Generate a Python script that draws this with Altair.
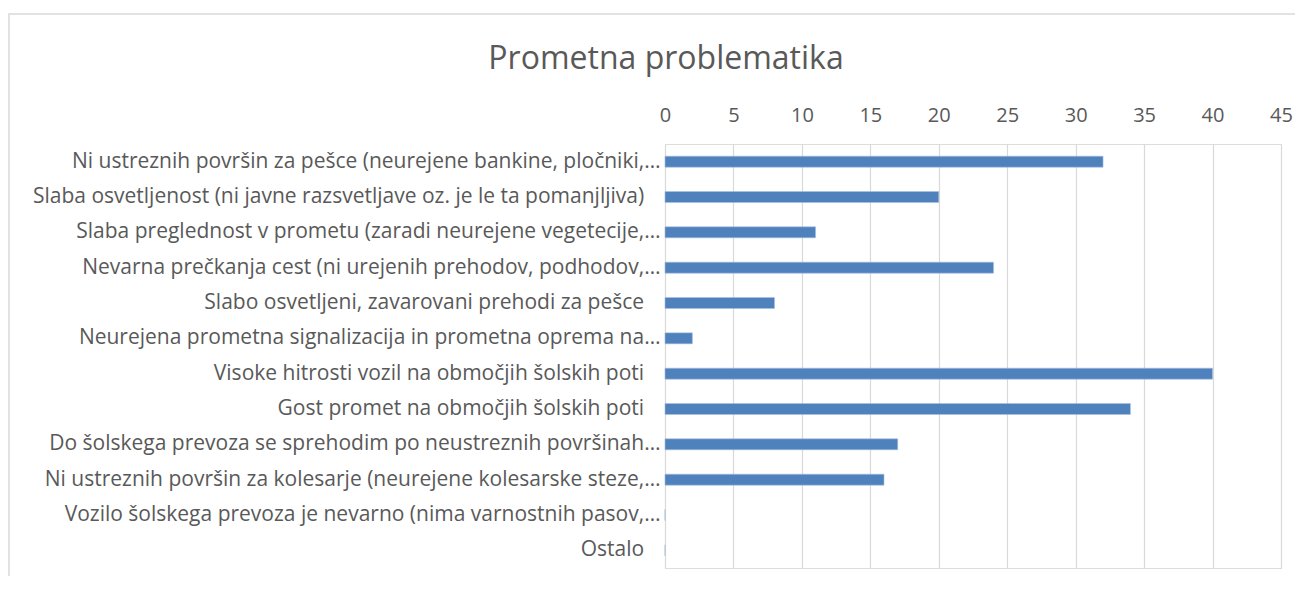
import altair as alt
import pandas as pd

title_text = ["Prometna problematika"]
PAD = "\u00a0\u00a0\u00a0\u200b"
categories = [
    "Ni ustreznih površin za pešce (neurejene bankine, pločniki,…",
    "Slaba osvetljenost (ni javne razsvetljave oz. je le ta pomanjljiva)" + PAD,
    "Slaba preglednost v prometu (zaradi neurejene vegetecije,…",
    "Nevarna prečkanja cest (ni urejenih prehodov, podhodov,…",
    "Slabo osvetljeni, zavarovani prehodi za pešce" + PAD,
    "Neurejena prometna signalizacija in prometna oprema na…",
    "Visoke hitrosti vozil na območjih šolskih poti" + PAD,
    "Gost promet na območjih šolskih poti" + PAD,
    "Do šolskega prevoza se sprehodim po neustreznih površinah…",
    "Ni ustreznih površin za kolesarje (neurejene kolesarske steze,…",
    "Vozilo šolskega prevoza je nevarno (nima varnostnih pasov,…",
    "Ostalo" + PAD,
]
values = [32, 20, 11, 24, 8, 2, 40, 34, 17, 16, 0, 0]
x_ticks = [0, 5, 10, 15, 20, 25, 30, 35, 40, 45]

df = pd.DataFrame({"kategorija": categories, "vrednost": values})
df_title = pd.DataFrame({"naslov": title_text})

FONT = "Open Sans"
GREY = "#595959"

frame = alt.Chart(df_title).mark_rect(
    fill=None, stroke="#d9d9d9", strokeWidth=1.5, clip=False
).encode(
    x=alt.value(-656), x2=alt.value(700),
    y=alt.value(-130), y2=alt.value(600),
)

title = alt.Chart(df_title).mark_text(
    font=FONT, fontSize=32, color=GREY, align="center", baseline="alphabetic"
).encode(
    text="naslov:N",
    x=alt.value(1),
    y=alt.value(-75),
)

bars = alt.Chart(df).mark_bar(
    color="#4f81bd", size=11, stroke="#a7c0e0", strokeWidth=0.6
).encode(
    x=alt.X(
        "vrednost:Q",
        scale=alt.Scale(domain=[0, 45], nice=False),
        axis=alt.Axis(
            orient="top", values=x_ticks, title=None, domain=False, ticks=False,
            labelPadding=19, labelFontSize=20, labelFont=FONT, labelColor=GREY,
            labelFlush=False,
            grid=True, gridColor="#d9d9d9", gridWidth=1.2,
        ),
    ),
    y=alt.Y(
        "kategorija:N",
        sort=categories,
        scale=alt.Scale(paddingInner=0, paddingOuter=0),
        axis=alt.Axis(
            title=None, domain=False, ticks=False, labelPadding=5,
            labelFontSize=21, labelFont=FONT, labelColor=GREY, labelLimit=800,
            grid=False,
        ),
    ),
)

chart = alt.layer(frame, title, bars).properties(
    width=616,
    height=424,
    autosize=alt.AutoSizeParams(type="none"),
    padding={"left": 657, "top": 136, "right": 14, "bottom": 8},
).configure_view(stroke=None).configure(background="white")

chart.save("out.html", embed_options={"renderer": "svg", "actions": False})
